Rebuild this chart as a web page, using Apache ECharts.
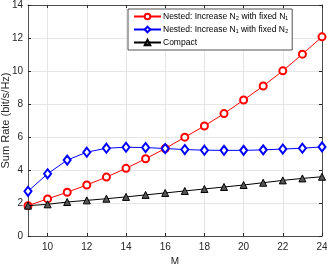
<!DOCTYPE html>
<html><head><meta charset="utf-8">
<script src="https://cdn.jsdelivr.net/npm/echarts@6/dist/echarts.min.js"></script>
<style>html,body{margin:0;padding:0;background:#fff}#c{width:327px;height:264px}</style>
</head><body><div id="c"></div>
<script>
const mValues = [9,10,11,12,13,14,15,16,17,18,19,20,21,22,23,24];
const nestedN2 = [1.84,2.25,2.65,3.09,3.57,4.10,4.68,5.30,5.99,6.67,7.42,8.24,9.09,10.01,11.02,12.07];
const nestedN1 = [2.71,3.77,4.60,5.08,5.32,5.38,5.36,5.30,5.24,5.20,5.19,5.19,5.22,5.27,5.32,5.40];
const compact = [1.84,1.92,2.06,2.16,2.26,2.37,2.49,2.61,2.73,2.85,2.97,3.09,3.23,3.37,3.49,3.59];
const xTicks = [10,12,14,16,18,20,22,24];
const seriesNames = ['Nested: Increase N\u2082 with fixed N\u2081','Nested: Increase N\u2081 with fixed N\u2082','Compact'];

const pair = arr => mValues.map((m,i)=>[m,arr[i]]);
const chart = echarts.init(document.getElementById('c'));
const FF = 'Liberation Sans, Arial, sans-serif';
const axisTxt = {color:'#262626', fontSize:10, fontFamily:FF};
const axCol = '#262626';
chart.setOption({
  animation:false,
  grid:{left:28,right:5,top:5,bottom:28,show:false,containLabel:false,outerBoundsMode:'none'},
  legend:{
    orient:'vertical', left:128, top:9, itemWidth:27, itemHeight:7, itemGap:4,
    padding:[3,4,3,5], borderColor:axCol, borderWidth:0.8, backgroundColor:'#fff',
    textStyle:{fontSize:8.5, color:'#000', fontFamily:FF, padding:[0,0,0,-3]},
    data:seriesNames
  },
  xAxis:[{
    type:'value', min:9, max:24, name:'M', nameLocation:'middle', nameGap:16,
    nameTextStyle:{color:axCol,fontSize:10,fontFamily:FF},
    axisLine:{onZero:false,lineStyle:{color:axCol,width:0.8}},
    axisTick:{inside:true,length:3,customValues:xTicks,lineStyle:{color:axCol}},
    axisLabel:{customValues:xTicks,margin:6,...axisTxt},
    splitLine:{show:true,lineStyle:{color:'#e0e0e0',width:0.8}}
  },{
    type:'value', min:9, max:24, position:'top',
    axisLine:{onZero:false,lineStyle:{color:axCol,width:0.8}},
    axisTick:{inside:true,length:3,customValues:xTicks,lineStyle:{color:axCol}},
    axisLabel:{show:false}, splitLine:{show:false}
  }],
  yAxis:[{
    type:'value', min:0, max:14, interval:2, name:'Sum Rate (bit/s/Hz)', nameLocation:'middle', nameGap:17,
    nameMoveOverlap:false,
    nameTextStyle:{color:axCol,fontSize:11,fontFamily:FF},
    axisLine:{show:true,lineStyle:{color:axCol,width:0.8}},
    axisTick:{show:true,inside:true,length:3,lineStyle:{color:axCol}},
    axisLabel:{margin:5,...axisTxt},
    splitLine:{show:true,lineStyle:{color:'#e0e0e0',width:0.8}}
  },{
    type:'value', min:0, max:14, interval:2, position:'right',
    axisLine:{show:true,lineStyle:{color:axCol,width:0.8}},
    axisTick:{show:true,inside:true,length:3,lineStyle:{color:axCol}},
    axisLabel:{show:false}, splitLine:{show:false}
  }],
  series:[
    {name:seriesNames[0],type:'line',data:pair(nestedN2),symbol:'emptyCircle',symbolSize:7,
     lineStyle:{color:'#ff0000',width:1},itemStyle:{color:'#ff0000',borderWidth:1},z:3},
    {name:seriesNames[1],type:'line',data:pair(nestedN1),symbol:'emptyDiamond',symbolSize:[7,9],
     lineStyle:{color:'#0000ff',width:1},itemStyle:{color:'#0000ff',borderWidth:1},z:3},
    {name:seriesNames[2],type:'line',data:pair(compact),symbol:'triangle',symbolSize:7,
     lineStyle:{color:'#000',width:1},itemStyle:{color:'#555',borderColor:'#000',borderWidth:1},z:4}
  ]
});
</script></body></html>
